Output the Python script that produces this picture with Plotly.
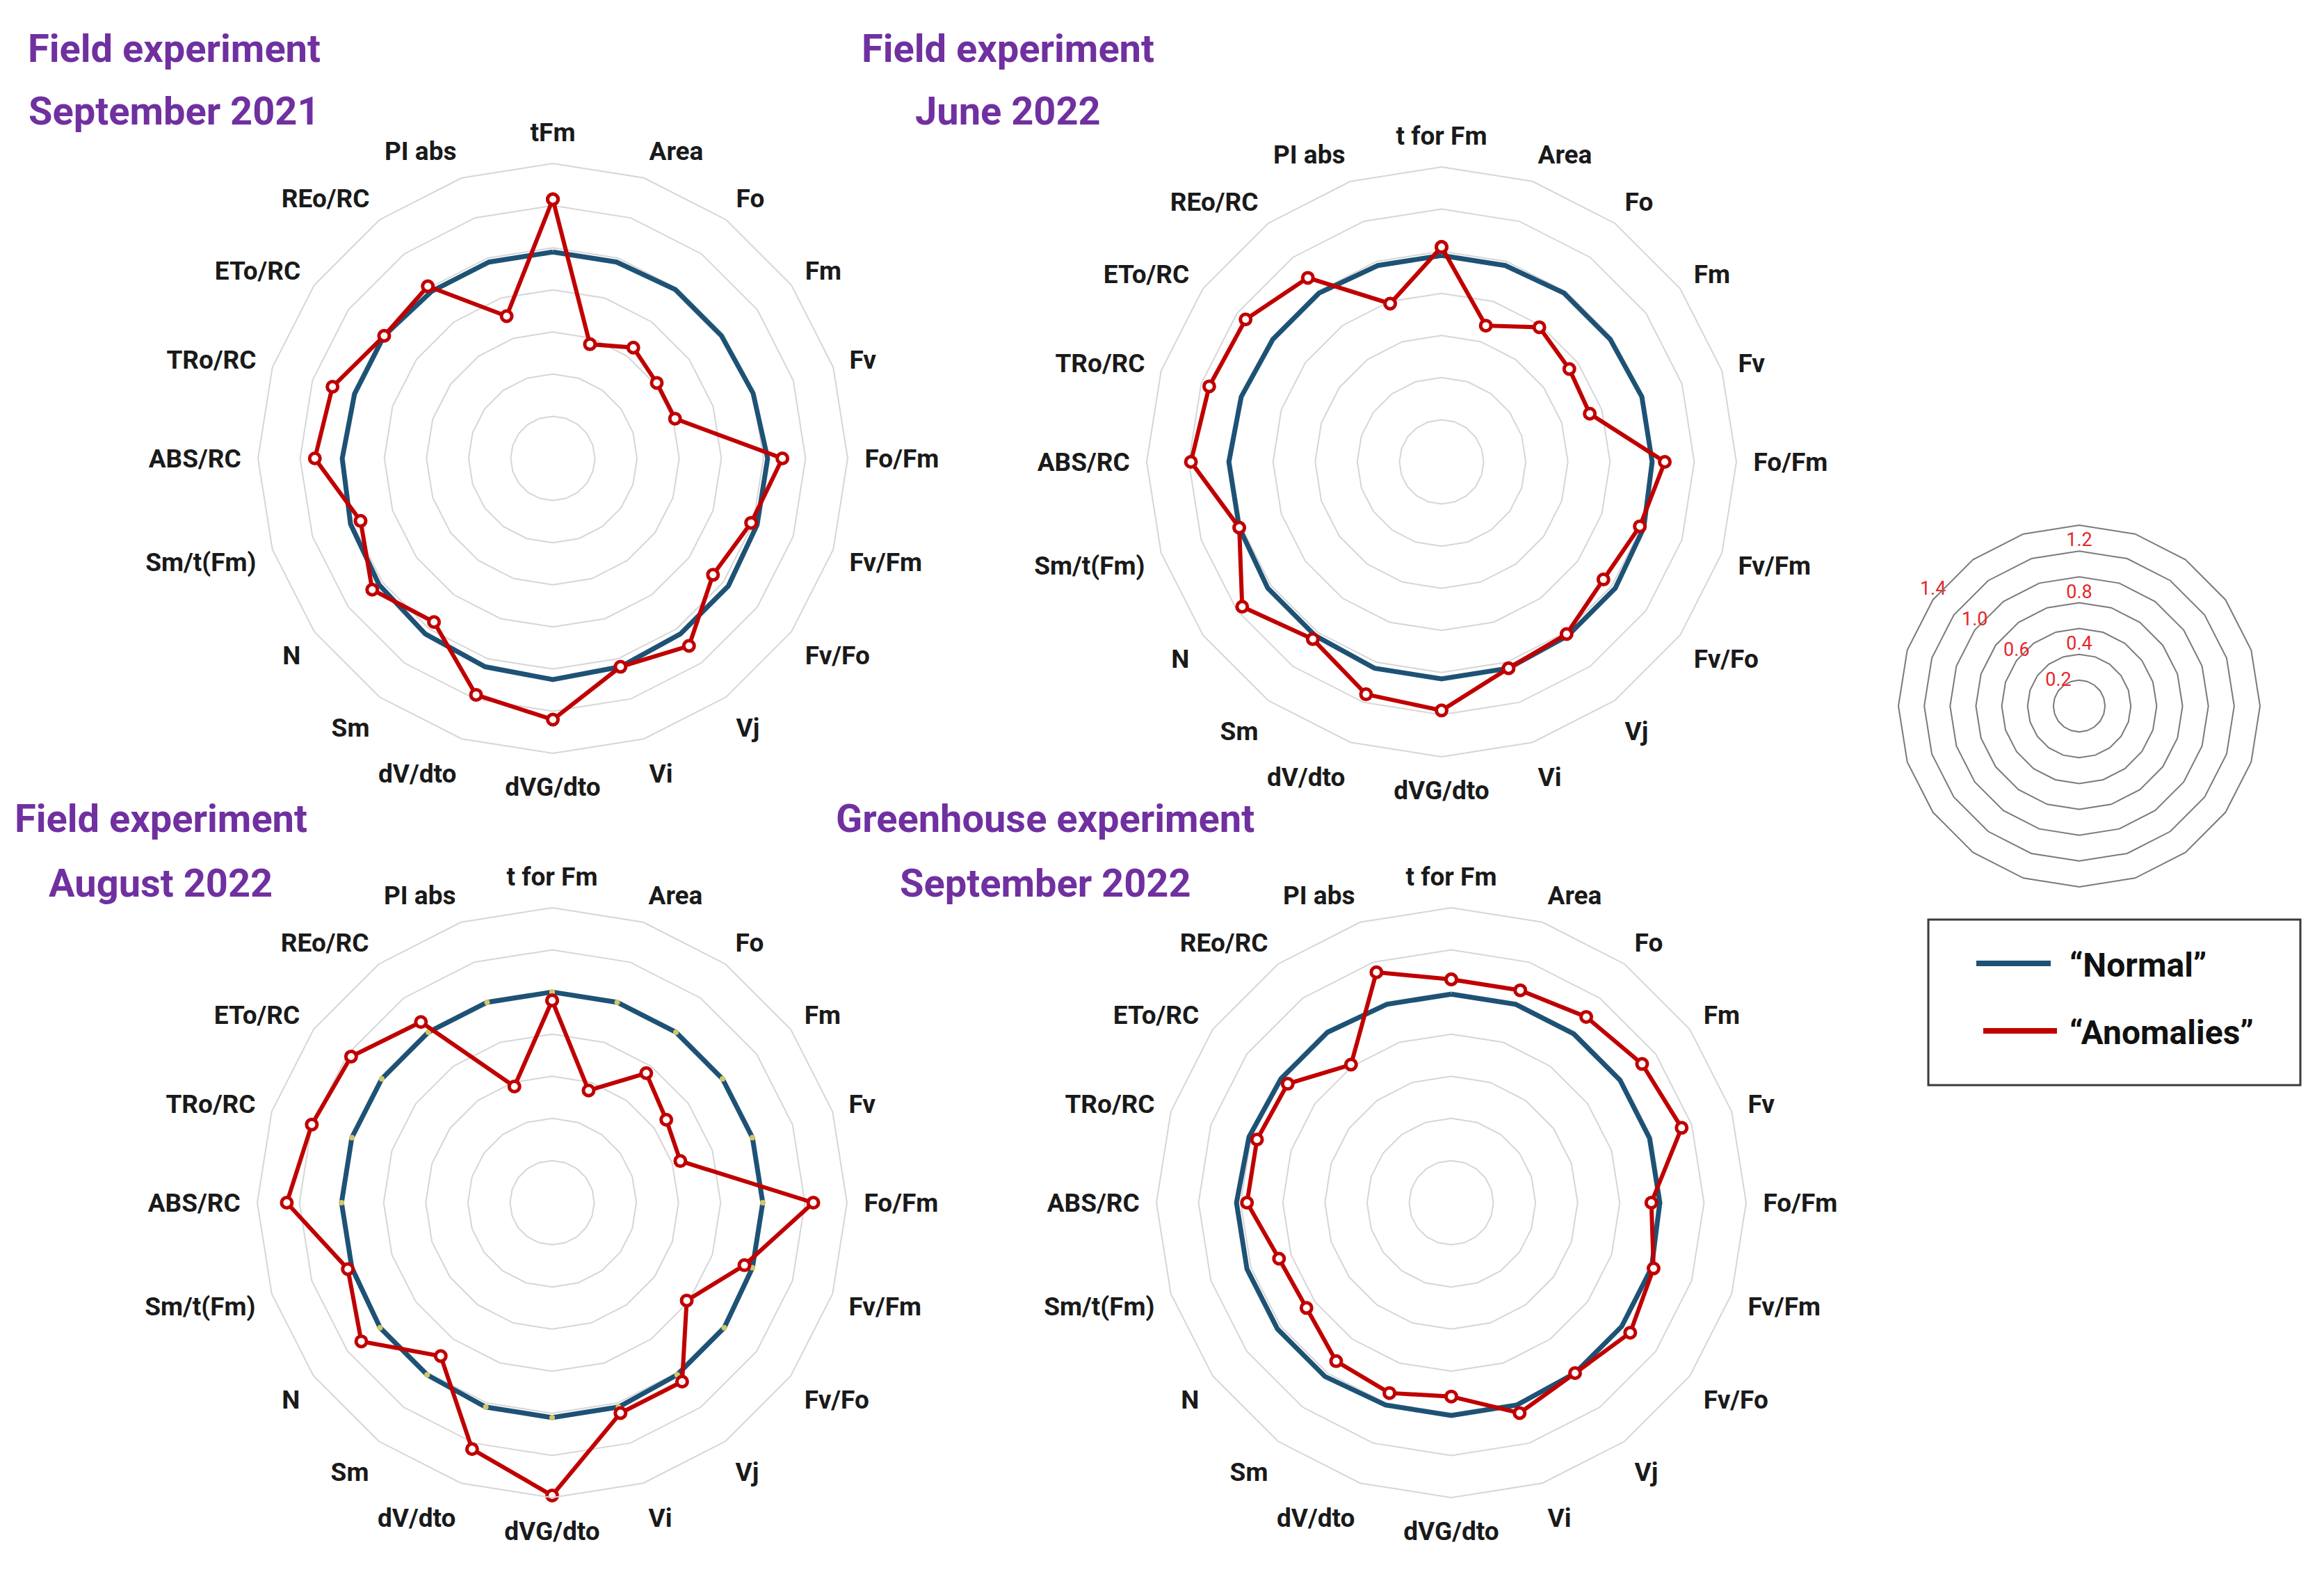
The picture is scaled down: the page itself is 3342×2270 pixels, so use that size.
import plotly.graph_objects as go

# ---------------- data ----------------
categories_sep2021 = ["tFm", "Area", "Fo", "Fm", "Fv", "Fo/Fm", "Fv/Fm", "Fv/Fo", "Vj", "Vi",
                      "dVG/dto", "dV/dto", "Sm", "N", "Sm/t(Fm)", "ABS/RC", "TRo/RC", "ETo/RC",
                      "REo/RC", "PI abs"]
categories = ["t for Fm", "Area", "Fo", "Fm", "Fv", "Fo/Fm", "Fv/Fm", "Fv/Fo", "Vj", "Vi",
              "dVG/dto", "dV/dto", "Sm", "N", "Sm/t(Fm)", "ABS/RC", "TRo/RC", "ETo/RC",
              "REo/RC", "PI abs"]

normal_sep2021 = [0.98, 0.98, 0.99, 0.99, 1.00, 1.02, 1.02, 1.03, 1.03, 1.04,
                  1.05, 1.04, 1.03, 1.02, 1.01, 1.00, 0.99, 0.99, 0.98, 0.98]
anom_sep2021 = [1.23, 0.57, 0.65, 0.61, 0.61, 1.09, 0.99, 0.94, 1.10, 1.04,
                1.24, 1.18, 0.96, 1.06, 0.96, 1.13, 1.10, 0.99, 1.01, 0.71]

normal_jun2022 = [0.98, 0.98, 0.99, 0.99, 1.00, 1.00, 1.01, 1.02, 1.02, 1.03,
                  1.03, 1.03, 1.02, 1.02, 1.01, 1.01, 1.00, 0.99, 0.99, 0.98]
anom_jun2022 = [1.02, 0.68, 0.79, 0.75, 0.74, 1.06, 0.99, 0.95, 1.01, 1.03,
                1.18, 1.16, 1.04, 1.17, 1.01, 1.19, 1.16, 1.15, 1.08, 0.79]

normal_aug2022 = [1.00, 1.00, 1.00, 1.00, 1.00, 1.00, 1.00, 1.01, 1.01, 1.02,
                  1.02, 1.02, 1.01, 1.01, 1.00, 1.00, 1.00, 1.00, 1.00, 1.00]
anom_aug2022 = [0.96, 0.56, 0.76, 0.67, 0.64, 1.24, 0.96, 0.79, 1.05, 1.05,
                1.39, 1.23, 0.90, 1.12, 1.02, 1.26, 1.20, 1.18, 1.06, 0.58]

normal_sep2022 = [0.99, 0.99, 0.99, 0.99, 0.99, 0.99, 1.00, 1.00, 1.00, 1.01,
                  1.01, 1.01, 1.02, 1.02, 1.02, 1.02, 1.01, 1.00, 1.00, 0.99]
anom_sep2022 = [1.06, 1.06, 1.09, 1.12, 1.15, 0.95, 1.01, 1.05, 1.00, 1.05,
                0.92, 0.95, 0.93, 0.85, 0.86, 0.97, 0.97, 0.96, 0.81, 1.15]

ring_values = [0.2, 0.4, 0.6, 0.8, 1.0, 1.2, 1.4]
scale_label_text = ["0.2", "0.4", "0.6", "0.8", "1.0", "1.2", "1.4"]
scale_label_theta = [categories[17], categories[0], categories[17], categories[0],
                     categories[17], categories[0], categories[17]]

panel_titles = [("Field experiment", "September 2021"),
                ("Field experiment", "June 2022"),
                ("Field experiment", "August 2022"),
                ("Greenhouse experiment", "September 2022")]
legend_names = ["\u201cNormal\u201d", "\u201cAnomalies\u201d"]

# ---------------- style ----------------
W, H = 3342, 2270
FONT = "Roboto, Liberation Sans, sans-serif"
BLUE = "#1d5275"
RED = "#c00000"
PURPLE = "#7030a0"
GRID = "#d6d6d6"
LABEL = "#1a1a1a"


def px_x(x):
    return x / W


def px_y(y):
    return 1 - y / H


def closed(seq):
    return list(seq) + [seq[0]]


fig = go.Figure()

panels = [
    ("polar", categories_sep2021, normal_sep2021, anom_sep2021, False, (787, 651)),
    ("polar2", categories, normal_jun2022, anom_jun2022, False, (2065, 656)),
    ("polar3", categories, normal_aug2022, anom_aug2022, True, (786, 1721)),
    ("polar4", categories, normal_sep2022, anom_sep2022, False, (2079, 1721)),
]
R_PX = 424

for name, cats, norm, anom, norm_markers, (cx, cy) in panels:
    fig.add_trace(go.Scatterpolar(
        r=closed(norm), theta=closed(cats), subplot=name,
        mode="lines+markers" if norm_markers else "lines",
        line=dict(color=BLUE, width=7),
        marker=dict(size=8, color="#d2c66a", line=dict(width=0)),
        showlegend=False, name="Normal"))
    fig.add_trace(go.Scatterpolar(
        r=closed(anom), theta=closed(cats), subplot=name,
        mode="lines+markers",
        line=dict(color=RED, width=6),
        marker=dict(size=15, color="white", line=dict(color=RED, width=5)),
        showlegend=False, name="Anomalies"))
    fig.update_layout(**{name: dict(
        domain=dict(x=[px_x(cx - R_PX), px_x(cx + R_PX)],
                    y=[px_y(cy + R_PX), px_y(cy - R_PX)]),
        bgcolor="white",
        gridshape="linear",
        radialaxis=dict(range=[0, 1.4], tickvals=ring_values[:-1], showticklabels=False,
                        ticks="", showline=False, gridcolor=GRID, gridwidth=2),
        angularaxis=dict(type="category", categoryarray=cats, direction="clockwise",
                         rotation=90, showgrid=False, showline=True, linecolor=GRID,
                         linewidth=2, ticks="outside", ticklen=16,
                         tickcolor="rgba(0,0,0,0)",
                         tickfont=dict(family=FONT, size=37, color=LABEL, weight="bold")),
    )})

# scale key radar
fig.add_trace(go.Scatterpolar(
    r=ring_values, theta=scale_label_theta, subplot="polar5", mode="text",
    text=scale_label_text,
    textposition="top center",
    textfont=dict(family=FONT, size=27, color="#e8262a"),
    showlegend=False, hoverinfo="skip"))
SCX, SCY, SR = 2982, 1007, 260
fig.update_layout(polar5=dict(
    domain=dict(x=[px_x(SCX - SR), px_x(SCX + SR)], y=[px_y(SCY + SR), px_y(SCY - SR)]),
    bgcolor="white",
    gridshape="linear",
    radialaxis=dict(range=[0, 1.4], tickvals=ring_values[:-1], showticklabels=False, ticks="",
                    showline=False, gridcolor="#7a7a7a", gridwidth=2),
    angularaxis=dict(type="category", categoryarray=categories, direction="clockwise",
                     rotation=90, showgrid=False, showline=True, linecolor="#7a7a7a",
                     linewidth=2, showticklabels=False, ticks=""),
))

# panel titles
title_pos = [(243, 62, 152), (1441, 62, 152), (223, 1169, 1262), (1495, 1169, 1262)]
annotations = []
for (l1, l2), (tx, ty1, ty2) in zip(panel_titles, title_pos):
    for txt, ty in ((l1, ty1), (l2, ty2)):
        annotations.append(dict(text=txt, x=px_x(tx), y=px_y(ty), xref="paper", yref="paper",
                                xanchor="center", yanchor="middle", showarrow=False,
                                font=dict(family=FONT, size=56, color=PURPLE, weight="bold")))

# legend box
shapes = [dict(type="rect", xref="paper", yref="paper",
               x0=px_x(2765), x1=px_x(3300), y0=px_y(1552), y1=px_y(1314),
               line=dict(color="#3a3a3a", width=3), fillcolor="white", layer="below")]
for (lx0, lx1, ly), col, (txt, ty) in zip([(2834, 2941, 1377), (2844, 2950, 1474)],
                                          [BLUE, RED],
                                          [(legend_names[0], 1379), (legend_names[1], 1476)]):
    shapes.append(dict(type="line", xref="paper", yref="paper",
                       x0=px_x(lx0), x1=px_x(lx1), y0=px_y(ly), y1=px_y(ly),
                       line=dict(color=col, width=8)))
    annotations.append(dict(text=txt, x=px_x(2966), y=px_y(ty), xref="paper", yref="paper",
                            xanchor="left", yanchor="middle", showarrow=False,
                            font=dict(family=FONT, size=48, color="#111111", weight="bold")))

fig.update_layout(width=W, height=H, margin=dict(l=0, r=0, t=0, b=0),
                  paper_bgcolor="white", plot_bgcolor="white",
                  annotations=annotations, shapes=shapes, showlegend=False)

fig.write_html("out.html")
